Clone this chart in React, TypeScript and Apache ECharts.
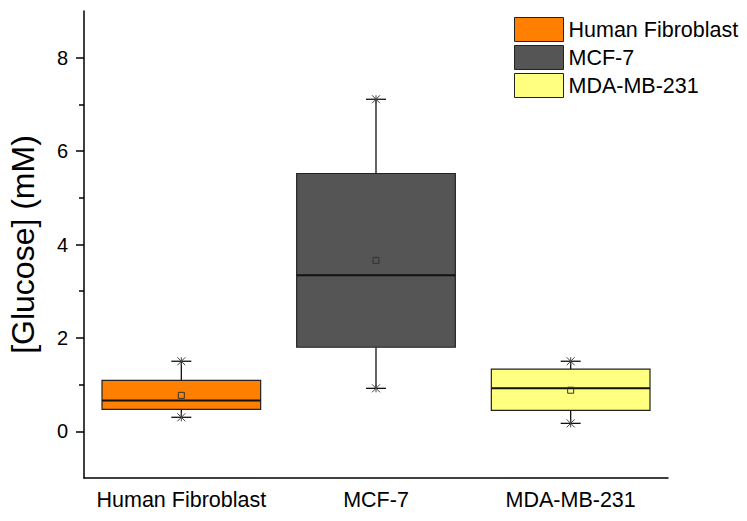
import React, { useEffect, useRef } from "react";
import * as echarts from "echarts";

const categories = ["Human Fibroblast", "MCF-7", "MDA-MB-231"];
const whiskerMin = [0.3, 0.92, 0.17];
const q1 = [0.47, 1.8, 0.45];
const median = [0.66, 3.34, 0.92];
const q3 = [1.09, 5.52, 1.33];
const whiskerMax = [1.5, 7.11, 1.5];
const mean = [0.77, 3.66, 0.88];
const colors = ["#FF8000", "#555555", "#FFFF80"];
const majorTicks = [0, 2, 4, 6, 8];
const minorTicks = [1, 3, 5, 7];

const FONT = "Liberation Sans, Arial, sans-serif";

function renderItem(params: any, api: any) {
  const x = api.value(0);
  const pMin = api.coord([x, api.value(1)]);
  const pQ1 = api.coord([x, api.value(2)]);
  const pMed = api.coord([x, api.value(3)]);
  const pQ3 = api.coord([x, api.value(4)]);
  const pMax = api.coord([x, api.value(5)]);
  const pMean = api.coord([x, api.value(6)]);
  const cx = pMed[0];
  const bw = api.size([1, 0])[0] * 0.815;
  const fill = api.visual("color");
  const capW = 10;
  const s = 4;
  const children: any[] = [];
  const line = (x1: number, y1: number, x2: number, y2: number, w: number, c = "#111") => ({
    type: "line",
    shape: { x1, y1, x2, y2 },
    style: { stroke: c, lineWidth: w },
  });
  children.push(line(cx, pMax[1], cx, pQ3[1], 1.3));
  children.push(line(cx, pQ1[1], cx, pMin[1], 1.3));
  children.push({
    type: "rect",
    shape: { x: cx - bw / 2, y: pQ3[1], width: bw, height: pQ1[1] - pQ3[1] },
    style: { fill, stroke: "#222", lineWidth: 1.2 },
  });
  children.push(line(cx - bw / 2, pMed[1], cx + bw / 2, pMed[1], 2));
  [pMax, pMin].forEach((p) => {
    children.push(line(cx - capW, p[1], cx + capW, p[1], 1.3));
    children.push(line(cx - s, p[1] - s, cx + s, p[1] + s, 1, "#444"));
    children.push(line(cx - s, p[1] + s, cx + s, p[1] - s, 1, "#444"));
    children.push(line(cx, p[1] - s, cx, p[1] + s, 1, "#444"));
  });
  children.push({
    type: "rect",
    shape: { x: cx - 3, y: pMean[1] - 3, width: 6, height: 6 },
    style: { fill: "none", stroke: "#333", lineWidth: 1 },
  });
  return { type: "group", children };
}

export default function App() {
  const ref = useRef<HTMLDivElement>(null);
  useEffect(() => {
    if (!ref.current) return;
    const chart = echarts.init(ref.current, null, { renderer: "svg" });
    const series = categories.map((name, i) => ({
      type: "custom",
      name,
      renderItem,
      itemStyle: { color: colors[i] },
      encode: { x: 0, y: [1, 2, 3, 4, 5, 6] },
      data: [[i, whiskerMin[i], q1[i], median[i], q3[i], whiskerMax[i], mean[i]]],
    }));
    chart.setOption({
      animation: false,
      backgroundColor: "#fff",
      textStyle: { fontFamily: FONT },
      grid: { left: 84, right: 79, top: 11, bottom: 43, containLabel: false, outerBoundsMode: "none" },
      legend: {
        orient: "vertical",
        left: 509,
        top: 12,
        itemGap: 3,
        itemWidth: 49,
        itemHeight: 24,
        icon: "rect",
        itemStyle: { borderColor: "#222", borderWidth: 1 },
        textStyle: { fontSize: 21.5, color: "#000", fontFamily: FONT },
        data: categories,
      },
      xAxis: {
        type: "category",
        data: categories,
        boundaryGap: true,
        axisLine: { onZero: false, lineStyle: { color: "#000", width: 1.5 } },
        axisTick: { alignWithLabel: true, interval: 0, length: 8, lineStyle: { color: "#000", width: 1.5 } },
        axisLabel: { fontSize: 21.5, color: "#000", margin: 11, interval: 0, hideOverlap: false, fontFamily: FONT },
        splitLine: { show: false },
      },
      yAxis: [
        {
          type: "value",
          min: -1,
          max: 9,
          name: "[Glucose] (mM)",
          nameLocation: "middle",
          nameGap: 45,
          nameTextStyle: { fontSize: 32, color: "#000", fontFamily: FONT },
          axisLine: { show: true, onZero: false, lineStyle: { color: "#000", width: 1.5 } },
          axisTick: { show: true, length: 8, customValues: majorTicks, lineStyle: { color: "#000", width: 1.5 } },
          axisLabel: { fontSize: 20, color: "#000", margin: 16, customValues: majorTicks, fontFamily: FONT },
          splitLine: { show: false },
        },
        {
          type: "value",
          min: -1,
          max: 9,
          position: "left",
          axisLine: { show: false, onZero: false },
          axisTick: { show: true, length: 5, customValues: minorTicks, lineStyle: { color: "#000", width: 1.5 } },
          axisLabel: { show: false },
          splitLine: { show: false },
        },
      ],
      series,
    });
    return () => chart.dispose();
  }, []);
  return (
    <div
      ref={ref}
      style={{ position: "fixed", left: 0, top: 0, width: 747, height: 521 }}
    />
  );
}
